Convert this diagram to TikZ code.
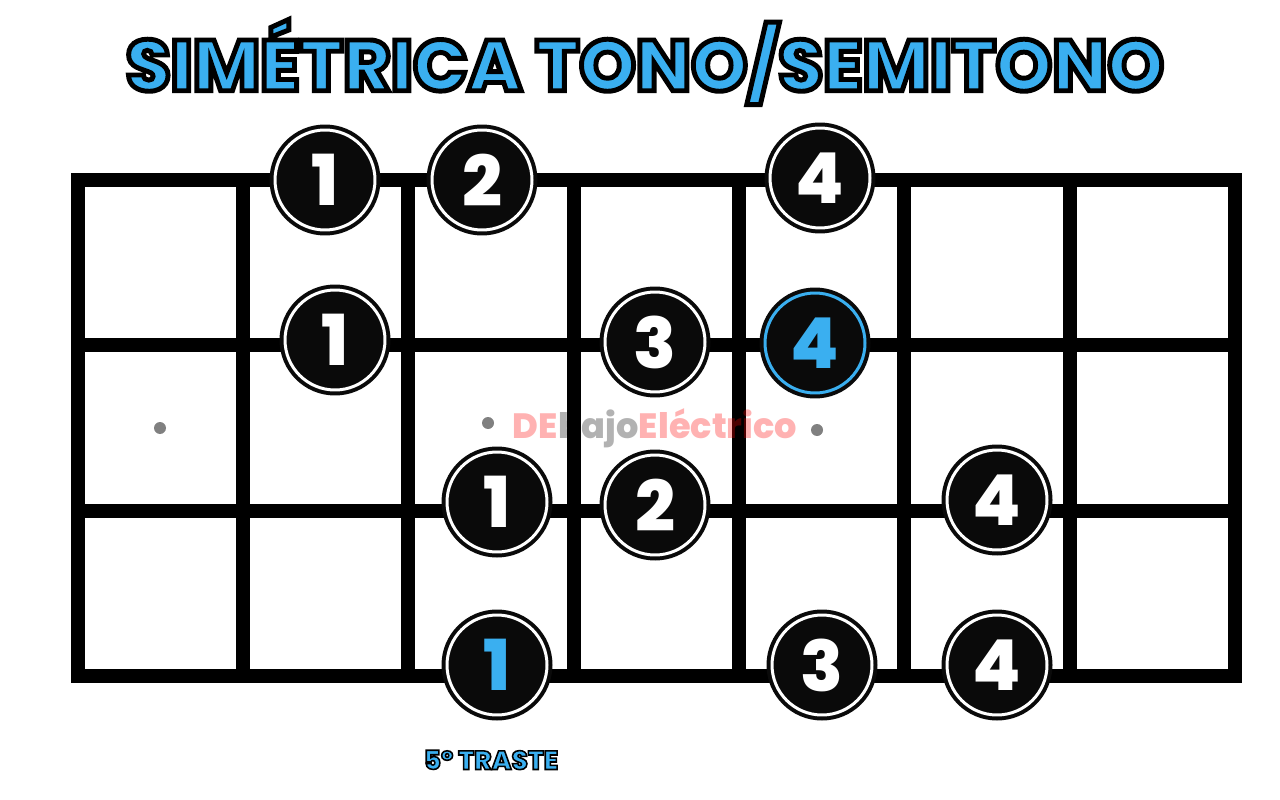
\documentclass[tikz,border=0pt]{standalone}
\usepackage{fontspec}
\setmainfont{Poppins}
\newfontfamily\heavyfont{Poppins}[UprightFont=* ExtraBold]
\usetikzlibrary{positioning}
\definecolor{scaleblue}{HTML}{3AAFF0}
\definecolor{notefill}{HTML}{0A0A0A}
\definecolor{markred}{HTML}{FF0000}
% outlined text: blue fill, black stroke
\newcommand{\outlined}[2]{\special{pdf:literal direct 2 Tr #1 w 0 0 0 RG}#2\special{pdf:literal direct 0 Tr}}

\begin{document}
\begin{tikzpicture}[x=0.02cm, y=-0.02cm,
    fret/.style={line width=0.28cm, line join=miter},
    note/.style={circle, fill=notefill, draw=white, line width=0.06cm, minimum size=2cm, inner sep=0pt,
        preaction={draw=notefill, line width=0.22cm}, text=white, font=\heavyfont\fontsize{40}{40}\selectfont},
    root/.style={text=scaleblue},
    rootring/.style={draw=scaleblue},
    dot/.style={circle, fill=gray, minimum size=0.24cm, inner sep=0pt}
]
\useasboundingbox (0,0) rectangle (1280,800);

% Title
\node[font=\heavyfont\fontsize{41}{41}\selectfont, text=scaleblue] (title) at (645,62) {\outlined{2.8}{SIMÉTRICA TONO/SEMITONO}};

% Frets and strings
\draw[fret] (78,180) rectangle (1235,676);
\foreach \x in {243,408,574,739,904,1070}
    \draw[fret] (\x,180) -- (\x,676);
\foreach \y in {345,511}
    \draw[fret] (78,\y) -- (1235,\y);

% Inlay dots
\node[dot] (dot3) at (160,428) {};
\node[dot] (dot5) at (488,423) {};
\node[dot] (dot7) at (817,430) {};

% Watermark
\node[font=\heavyfont\fontsize{20}{20}\selectfont, opacity=0.3] (mark) at (655,428)
    {\textcolor{markred}{DE}\textcolor{black}{bajo}\textcolor{markred}{Eléctrico}};

% String 1
\node[note] (s1a) at (325,180) {1};
\node[note] (s1b) at (482,180) {2};
\node[note] (s1c) at (820,178) {4};

% String 2
\node[note] (s2a) at (335,340) {1};
\node[note] (s2b) at (655,342) {3};
\node[note, root, rootring] (s2c) at (815,343) {4};

% String 3
\node[note] (s3a) at (497,502) {1};
\node[note] (s3b) at (655,505) {2};
\node[note] (s3c) at (997,500) {4};

% String 4
\node[note, root] (s4a) at (497,665) {1};
\node[note] (s4b) at (822,665) {3};
\node[note] (s4c) at (997,665) {4};

% Fret label
\node[font=\heavyfont\fontsize{15}{15}\selectfont, text=scaleblue, below=0.55cm of s4a, xshift=-0.12cm] (fretlabel) {\outlined{0.9}{5º TRASTE}};

\end{tikzpicture}
\end{document}
